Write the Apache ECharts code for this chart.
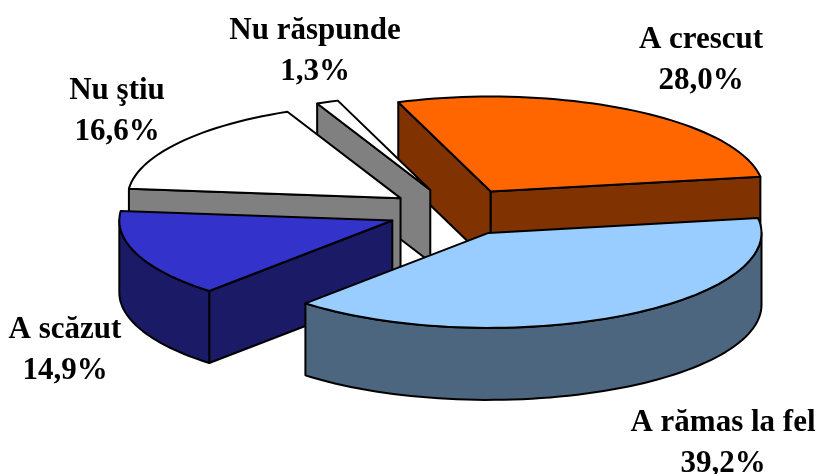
<!DOCTYPE html>
<html>
<head>
<meta charset="utf-8">
<style>html,body{margin:0;padding:0;background:#fff}#c{width:818px;height:474px}</style>
<script src="https://cdn.jsdelivr.net/npm/echarts@6/dist/echarts.min.js"></script>
</head>
<body>
<div id="c"></div>
<script>
// Data
var categories = ['A crescut', 'A rămas la fel', 'A scăzut', 'Nu ştiu', 'Nu răspunde'];
var shares = [28.0, 39.2, 14.9, 16.6, 1.3];
var valueLabels = ['28,0%', '39,2%', '14,9%', '16,6%', '1,3%'];
// Styles
var topColors = ['#FF6600', '#99CCFF', '#3333CC', '#FFFFFF', '#FFFFFF'];
var sideColors = ['#803300', '#4D6680', '#1A1A66', '#808080', '#808080'];
// Layout
var paintOrder = [0, 4, 3, 2, 1];
var labelCentres = [[701, 60], [723, 443], [65, 350], [117, 111], [315, 51]];
var centre = [456, 212], rx = 273, ry = 95, depth = 72, explode = 0.25;
var startRamas = -9;

// Slices run clockwise on screen, starting with "A rămas la fel" at startRamas and ending with "A crescut".
function sliceAngles() {
  var order = [1, 2, 3, 4, 0], a = startRamas, out = [], total = 0, i;
  for (i = 0; i < shares.length; i++) total += shares[i];
  order.forEach(function (k) {
    var sweep = shares[k] / total * 360;
    out[k] = [a, a + sweep];
    a += sweep;
  });
  return out;
}
var angles = sliceAngles();

function rad(d) { return d * Math.PI / 180; }
function arc(apex, from, to, dy) {
  var pts = [], n = Math.max(2, Math.ceil(Math.abs(to - from) / 2)), i, t;
  for (i = 0; i <= n; i++) {
    t = rad(from + (to - from) * i / n);
    pts.push([apex[0] + rx * Math.cos(t), apex[1] + ry * Math.sin(t) + (dy || 0)]);
  }
  return pts;
}
function face(pts, fill) {
  return {
    type: 'polygon',
    shape: { points: pts },
    style: { fill: fill, stroke: '#000', lineWidth: 2, lineJoin: 'round' }
  };
}
function radialFace(apex, t, fill) {
  var p = arc(apex, t, t, 0)[0];
  return face([apex, p, [p[0], p[1] + depth], [apex[0], apex[1] + depth]], fill);
}
function renderSlice(params, api) {
  var k = api.value(0);
  var t0 = angles[k][0], t1 = angles[k][1], m = rad((t0 + t1) / 2);
  var apex = [centre[0] + explode * rx * Math.cos(m), centre[1] + explode * ry * Math.sin(m)];
  var side = sideColors[k], children = [];
  if (Math.cos(rad(t0)) < 0) children.push(radialFace(apex, t0, side));
  if (Math.cos(rad(t1)) > 0) children.push(radialFace(apex, t1, side));
  var a = Math.max(t0, 0), b = Math.min(t1, 180);
  if (b > a) {
    children.push(face(arc(apex, a, b, 0).concat(arc(apex, b, a, depth)), side));
  }
  children.push(face([apex].concat(arc(apex, t0, t1, 0)), topColors[k]));
  return { type: 'group', children: children };
}
function renderLabel(params, api) {
  var k = api.value(0), c = labelCentres[k];
  return {
    type: 'text',
    x: c[0], y: c[1],
    style: {
      text: categories[k] + '\n' + valueLabels[k],
      align: 'center', verticalAlign: 'middle',
      font: 'bold 31px "Liberation Serif"', lineHeight: 41, fill: '#000'
    }
  };
}
var chart = echarts.init(document.getElementById('c'), null, { renderer: 'canvas' });
chart.setOption({
  animation: false,
  backgroundColor: '#fff',
  series: [
    { type: 'custom', coordinateSystem: 'none', silent: true, renderItem: renderSlice,
      data: paintOrder.map(function (k) { return [k, shares[k]]; }) },
    { type: 'custom', coordinateSystem: 'none', silent: true, renderItem: renderLabel, z: 5,
      data: categories.map(function (n, k) { return [k, shares[k]]; }) }
  ]
});
</script>
</body>
</html>
